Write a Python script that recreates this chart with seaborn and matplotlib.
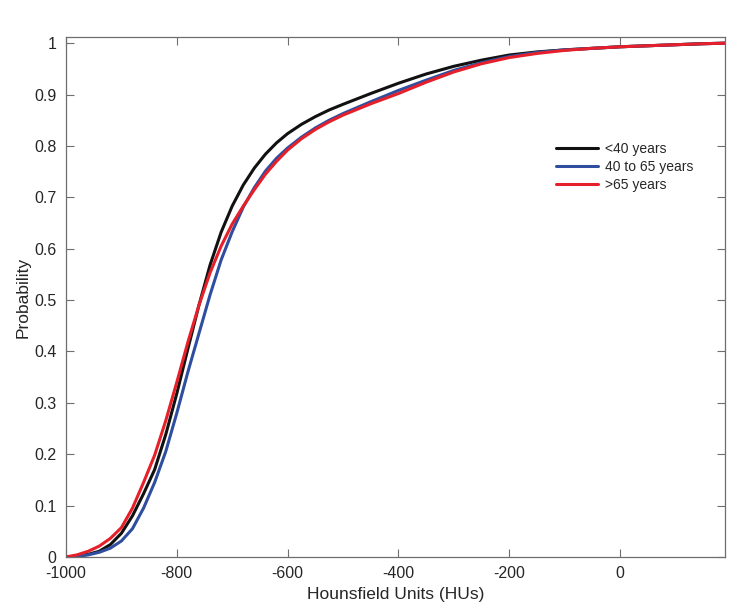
import numpy as np
import pandas as pd
import seaborn as sns
import matplotlib
matplotlib.use("Agg")
import matplotlib.pyplot as plt

# values (cumulative probability vs HU)
hu = [-1000, -980, -960, -940, -920, -900, -880, -860, -840, -820, -800,
      -780, -760, -740, -720, -700, -680, -660, -640, -620, -600, -575,
      -550, -525, -500, -450, -400, -350, -300, -250, -200, -150, -100,
      -50, 0, 50, 100, 150, 190]

under_40 = [0.0, 0.0015, 0.005, 0.011, 0.024, 0.046, 0.08, 0.123, 0.17,
            0.238, 0.318, 0.405, 0.49, 0.568, 0.632, 0.683, 0.724, 0.757,
            0.784, 0.806, 0.824, 0.842, 0.857, 0.870, 0.881, 0.902, 0.922,
            0.940, 0.955, 0.967, 0.977, 0.983, 0.987, 0.990, 0.993, 0.995,
            0.997, 0.999, 1.0]

age_40_65 = [0.0, 0.001, 0.004, 0.009, 0.017, 0.031, 0.055, 0.095, 0.145,
             0.205, 0.28, 0.36, 0.435, 0.51, 0.578, 0.633, 0.681, 0.719,
             0.751, 0.776, 0.796, 0.817, 0.835, 0.850, 0.863, 0.886, 0.908,
             0.928, 0.947, 0.962, 0.974, 0.982, 0.987, 0.990, 0.993, 0.995,
             0.997, 0.999, 1.0]

over_65 = [0.0, 0.004, 0.011, 0.021, 0.036, 0.057, 0.095, 0.145, 0.198,
           0.265, 0.34, 0.418, 0.49, 0.553, 0.605, 0.648, 0.683, 0.715,
           0.745, 0.770, 0.792, 0.814, 0.832, 0.847, 0.860, 0.882, 0.902,
           0.924, 0.944, 0.960, 0.972, 0.980, 0.986, 0.990, 0.993, 0.995,
           0.997, 0.999, 1.0]

groups = ["<40 years", "40 to 65 years", ">65 years"]
colors = ["#111111", "#2F4E9F", "#E6202A"]

frames = []
for name, vals in zip(groups, [under_40, age_40_65, over_65]):
    frames.append(pd.DataFrame({"HU": hu, "prob": vals, "group": name}))
df = pd.concat(frames, ignore_index=True)

sns.set_theme(style="white")
plt.rcParams["font.family"] = ["Liberation Sans", "DejaVu Sans"]
plt.rcParams["axes.unicode_minus"] = False

fig = plt.figure(figsize=(7.5, 6.12), dpi=100)
ax = fig.add_axes([0.088, 0.09, 0.879, 0.8495])

sns.lineplot(data=df, x="HU", y="prob", hue="group", hue_order=groups,
             palette=colors, linewidth=2.2, ax=ax)

ax.set_xlim(-1000, 190)
ax.set_ylim(0, 1.012)
ax.set_xticks([-1000, -800, -600, -400, -200, 0])
ax.set_yticks(np.arange(0, 1.01, 0.1))
ax.set_yticklabels(["0", "0.1", "0.2", "0.3", "0.4", "0.5", "0.6", "0.7", "0.8", "0.9", "1"])
ax.set_xlabel("Hounsfield Units (HUs)", fontsize=12.5, color="#262626", labelpad=4.5)
ax.set_ylabel("Probability", fontsize=12.5, color="#262626", labelpad=2)

for s in ax.spines.values():
    s.set_color("#6e6e6e")
    s.set_linewidth(0.9)
ax.tick_params(direction="in", length=6, width=0.8, color="#6e6e6e",
               labelsize=11.5, labelcolor="#262626", top=True, right=True,
               bottom=True, left=True)
ax.tick_params(axis="x", pad=6.5)
ax.tick_params(axis="y", pad=7)

ax.legend(loc="upper left", bbox_to_anchor=(0.725, 0.823), frameon=False,
          fontsize=10, handlelength=3.0, labelspacing=0.3, handletextpad=0.5)

fig.savefig("out.png", dpi=100)
